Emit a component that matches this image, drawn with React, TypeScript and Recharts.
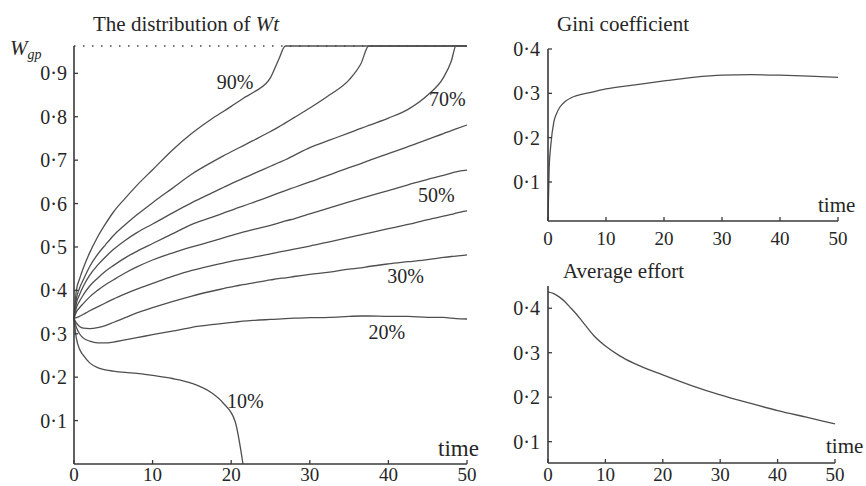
import { LineChart, Line, XAxis, YAxis, ReferenceLine, ReferenceDot } from 'recharts'

const FONT = '"Liberation Serif", "DejaVu Serif", serif'
const LINE = '#4f4f4f'
const AXIS = '#3a3a3a'
const TEXT = '#262626'

// level where the upper percentiles stop (W_gp)
const WGP = 0.963

// left panel: percentiles of Wt over time
const time = [0, 0.3, 0.7, 1.2, 2, 3, 4, 5, 6.5, 8, 10, 12.5, 15, 17.5, 19, 20.5, 21.5, 23, 25, 26, 26.9, 28, 30, 32.5, 35, 36.5, 37.5, 40, 42.5, 45, 47, 48, 48.6, 50]
const p10 = [0.335, 0.29, 0.265, 0.25, 0.233, 0.222, 0.217, 0.214, 0.211, 0.209, 0.204, 0.197, 0.186, 0.164, 0.14, 0.098, 0, null, null, null, null, null, null, null, null, null, null, null, null, null, null, null, null, null]
const p20 = [0.335, 0.315, 0.3, 0.29, 0.283, 0.279, 0.279, 0.281, 0.286, 0.291, 0.298, 0.306, 0.315, 0.321, 0.324, 0.327, 0.329, 0.331, 0.333, 0.334, 0.335, 0.336, 0.337, 0.338, 0.34, 0.341, 0.341, 0.34, 0.34, 0.338, 0.338, 0.336, 0.335, 0.334]
const p30 = [0.335, 0.325, 0.317, 0.313, 0.312, 0.314, 0.319, 0.326, 0.337, 0.348, 0.36, 0.374, 0.387, 0.398, 0.404, 0.41, 0.413, 0.418, 0.424, 0.427, 0.429, 0.432, 0.437, 0.442, 0.449, 0.452, 0.455, 0.461, 0.466, 0.471, 0.476, 0.478, 0.479, 0.482]
const p40 = [0.335, 0.337, 0.34, 0.345, 0.353, 0.362, 0.371, 0.38, 0.392, 0.403, 0.416, 0.432, 0.446, 0.457, 0.463, 0.469, 0.472, 0.477, 0.484, 0.488, 0.491, 0.495, 0.502, 0.512, 0.522, 0.528, 0.532, 0.542, 0.552, 0.563, 0.571, 0.575, 0.578, 0.583]
const p50 = [0.335, 0.35, 0.36, 0.37, 0.385, 0.4, 0.413, 0.424, 0.44, 0.454, 0.47, 0.486, 0.5, 0.513, 0.521, 0.529, 0.534, 0.541, 0.55, 0.555, 0.56, 0.565, 0.576, 0.59, 0.604, 0.612, 0.617, 0.63, 0.643, 0.656, 0.665, 0.67, 0.673, 0.677]
const p60 = [0.335, 0.36, 0.375, 0.39, 0.41, 0.428, 0.444, 0.457, 0.475, 0.49, 0.508, 0.53, 0.552, 0.568, 0.578, 0.588, 0.594, 0.604, 0.617, 0.624, 0.63, 0.637, 0.65, 0.666, 0.683, 0.692, 0.699, 0.715, 0.731, 0.748, 0.761, 0.768, 0.772, 0.781]
const p70 = [0.335, 0.37, 0.39, 0.41, 0.435, 0.458, 0.477, 0.494, 0.515, 0.533, 0.553, 0.578, 0.602, 0.624, 0.637, 0.65, 0.658, 0.67, 0.686, 0.694, 0.701, 0.711, 0.729, 0.746, 0.763, 0.773, 0.78, 0.797, 0.817, 0.85, 0.89, 0.928, 0.963, 0.963]
const p80 = [0.335, 0.38, 0.405, 0.425, 0.455, 0.483, 0.505, 0.526, 0.551, 0.574, 0.602, 0.635, 0.668, 0.695, 0.71, 0.724, 0.733, 0.747, 0.766, 0.776, 0.786, 0.798, 0.82, 0.85, 0.885, 0.922, 0.963, 0.963, 0.963, 0.963, 0.963, 0.963, 0.963, 0.963]
const p90 = [0.335, 0.4, 0.426, 0.452, 0.487, 0.523, 0.553, 0.58, 0.612, 0.642, 0.678, 0.723, 0.762, 0.795, 0.812, 0.83, 0.842, 0.858, 0.89, 0.93, 0.963, 0.963, 0.963, 0.963, 0.963, 0.963, 0.963, 0.963, 0.963, 0.963, 0.963, 0.963, 0.963, 0.963]

const pctKeys = ['p10', 'p20', 'p30', 'p40', 'p50', 'p60', 'p70', 'p80', 'p90']
const pctLabels = [
  { text: '90%', t: 20.5, v: 0.881 },
  { text: '70%', t: 47.5, v: 0.842 },
  { text: '50%', t: 46.1, v: 0.62 },
  { text: '30%', t: 42.2, v: 0.434 },
  { text: '20%', t: 39.8, v: 0.305 },
  { text: '10%', t: 21.8, v: 0.146 },
]

// Gini coefficient
const giniT = [0, 0.2, 0.5, 1, 1.5, 2, 3, 4, 5, 7, 10, 15, 20, 25, 30, 35, 40, 45, 50]
const giniV = [0.015, 0.13, 0.185, 0.235, 0.255, 0.268, 0.282, 0.29, 0.295, 0.301, 0.31, 0.319, 0.328, 0.336, 0.341, 0.342, 0.341, 0.339, 0.336]

// average effort
const effortT = [0, 1, 2, 3, 4, 5, 6, 8, 10, 12.5, 15, 20, 25, 30, 35, 40, 45, 50]
const effortV = [0.437, 0.433, 0.425, 0.414, 0.4, 0.386, 0.37, 0.338, 0.315, 0.293, 0.276, 0.25, 0.226, 0.205, 0.187, 0.17, 0.155, 0.14]

const xTicks = [0, 10, 20, 30, 40, 50]
const wTicks = [0.1, 0.2, 0.3, 0.4, 0.5, 0.6, 0.7, 0.8, 0.9]
const smallTicks = [0.1, 0.2, 0.3, 0.4]

const distData = time.map((t, i) => ({
  t,
  p10: p10[i],
  p20: p20[i],
  p30: p30[i],
  p40: p40[i],
  p50: p50[i],
  p60: p60[i],
  p70: p70[i],
  p80: p80[i],
  p90: p90[i],
}))
const giniData = giniT.map((t, i) => ({ t, v: giniV[i] }))
const effortData = effortT.map((t, i) => ({ t, v: effortV[i] }))

const fmt = (v: number) => v.toFixed(1).replace('.', '·')

const makeYTick = (gap: number) => (props: any) => {
  const { x, y, payload } = props
  return (
    <g>
      <line x1={x} x2={x + 4} y1={y} y2={y} stroke={AXIS} strokeWidth={1.3} />
      <text x={x - gap} y={y} dy="0.35em" textAnchor="end" fontSize={20} fill={TEXT}>
        {fmt(payload.value)}
      </text>
    </g>
  )
}

const makeXTick = (dy: number) => (props: any) => {
  const { x, y, payload } = props
  return (
    <g>
      <line x1={x} x2={x} y1={y} y2={y - 4} stroke={AXIS} strokeWidth={1.3} />
      <text x={x} y={y + dy} textAnchor="middle" fontSize={19} fill={TEXT}>
        {payload.value}
      </text>
    </g>
  )
}

const axisLine = { stroke: AXIS, strokeWidth: 1.6 }

export default function App() {
  return (
    <div
      style={{
        position: 'absolute',
        left: 0,
        top: 0,
        width: 866,
        height: 486,
        overflow: 'hidden',
        background: '#fff',
        fontFamily: FONT,
      }}
    >
      <div style={{ position: 'absolute', left: 0, top: 0 }}>
        <LineChart width={480} height={486} data={distData} margin={{ top: 46, right: 13, bottom: 21, left: 73 }}>
          <XAxis
            dataKey="t"
            type="number"
            domain={[0, 50]}
            ticks={xTicks}
            height={1}
            tickSize={0}
            tickMargin={0}
            tickLine={false}
            axisLine={axisLine}
            tick={makeXTick(17)}
            interval={0}
          />
          <YAxis
            type="number"
            domain={[0, WGP]}
            ticks={wTicks}
            width={1}
            tickSize={0}
            tickMargin={0}
            tickLine={false}
            axisLine={axisLine}
            tick={makeYTick(7)}
            interval={0}
          />
          <ReferenceLine y={WGP} stroke="#444" strokeWidth={1.6} strokeDasharray="1.5 7.5" />
          {pctKeys.map((k) => (
            <Line
              key={k}
              dataKey={k}
              type="monotone"
              stroke={LINE}
              strokeWidth={1.3}
              dot={false}
              activeDot={false}
              isAnimationActive={false}
            />
          ))}
          {pctLabels.map((l) => (
            <ReferenceDot
              key={l.text}
              x={l.t}
              y={l.v}
              r={0}
              fill="none"
              stroke="none"
              label={{ value: l.text, position: 'center', fontSize: 20, fill: TEXT }}
            />
          ))}
        </LineChart>
      </div>

      <div style={{ position: 'absolute', left: 480, top: 0 }}>
        <LineChart width={386} height={260} data={giniData} margin={{ top: 49, right: 28, bottom: 38, left: 67 }}>
          <XAxis
            dataKey="t"
            type="number"
            domain={[0, 50]}
            ticks={xTicks}
            height={1}
            tickSize={0}
            tickMargin={0}
            tickLine={false}
            axisLine={axisLine}
            tick={makeXTick(24)}
            interval={0}
          />
          <YAxis
            type="number"
            domain={[0.012, 0.4]}
            ticks={smallTicks}
            width={1}
            tickSize={0}
            tickMargin={0}
            tickLine={false}
            axisLine={axisLine}
            tick={makeYTick(8)}
            interval={0}
          />
          <Line dataKey="v" type="monotone" stroke={LINE} strokeWidth={1.3} dot={false} activeDot={false} isAnimationActive={false} />
        </LineChart>
      </div>

      <div style={{ position: 'absolute', left: 480, top: 262 }}>
        <LineChart width={386} height={224} data={effortData} margin={{ top: 24, right: 31, bottom: 22, left: 67 }}>
          <XAxis
            dataKey="t"
            type="number"
            domain={[0, 50]}
            ticks={xTicks}
            height={1}
            tickSize={0}
            tickMargin={0}
            tickLine={false}
            axisLine={axisLine}
            tick={makeXTick(18)}
            interval={0}
          />
          <YAxis
            type="number"
            domain={[0.052, 0.45]}
            ticks={smallTicks}
            width={1}
            tickSize={0}
            tickMargin={0}
            tickLine={false}
            axisLine={axisLine}
            tick={makeYTick(8)}
            interval={0}
          />
          <Line dataKey="v" type="monotone" stroke={LINE} strokeWidth={1.3} dot={false} activeDot={false} isAnimationActive={false} />
        </LineChart>
      </div>

      {/* titles and axis captions */}
      <svg width={866} height={486} style={{ position: 'absolute', left: 0, top: 0, pointerEvents: 'none' }}>
        <text x={93} y={31} fontSize={21} fill={TEXT}>
          The distribution of <tspan fontStyle="italic">Wt</tspan>
        </text>
        <text x={10} y={55} fontSize={21} fontStyle="italic" fill={TEXT}>
          W<tspan fontSize={14} dy={4}>gp</tspan>
        </text>
        <text x={438} y={456} fontSize={23} fill={TEXT}>time</text>
        <text x={557} y={31} fontSize={21} fill={TEXT}>Gini coefficient</text>
        <text x={818} y={212} fontSize={21} fill={TEXT}>time</text>
        <text x={563} y={278} fontSize={21} fill={TEXT}>Average effort</text>
        <text x={826} y={453} fontSize={21} fill={TEXT}>time</text>
      </svg>
    </div>
  )
}
